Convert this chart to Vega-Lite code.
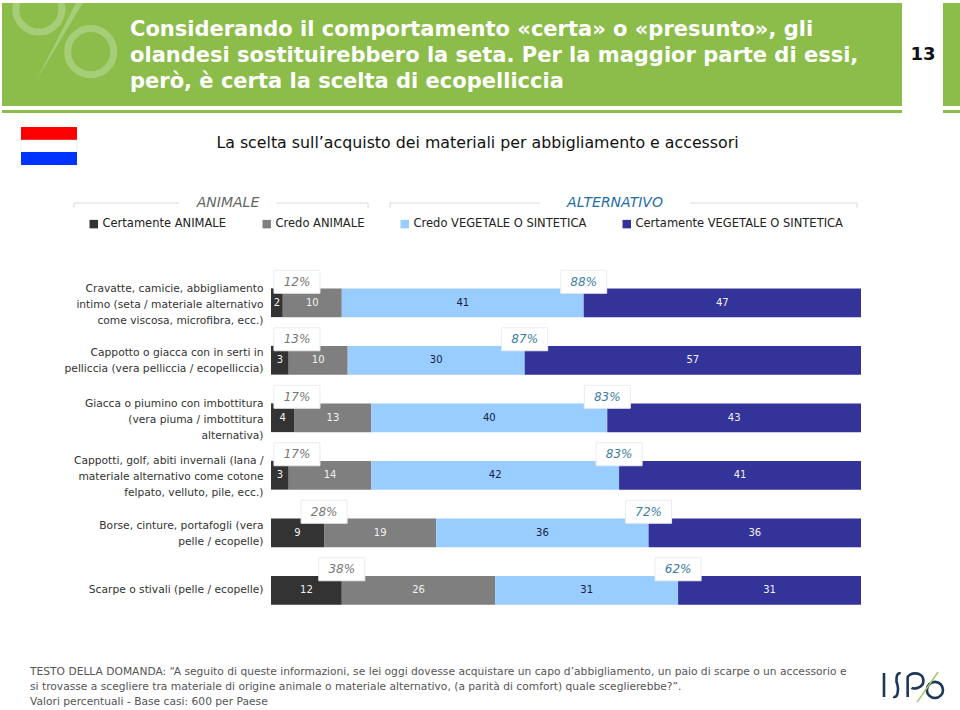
{
"$schema":"https://vega.github.io/schema/vega-lite/v6.json",
"width":960,"height":710,"padding":0,"autosize":{"type":"none"},"background":"#ffffff",
"config":{"view":{"stroke":null},"font":"DejaVu Sans"},
"datasets":{
"one":[{"k":1}],
"bars":[
{"item":"Cravatte, camicie, abbigliamento\u00a0|intimo (seta / materiale alternativo|come viscosa, microfibra, ecc.)\u00a0\u00a0\u00a0","risposta":"Certamente ANIMALE","ordine":1,"pct":2},
{"item":"Cravatte, camicie, abbigliamento\u00a0|intimo (seta / materiale alternativo|come viscosa, microfibra, ecc.)\u00a0\u00a0\u00a0","risposta":"Credo ANIMALE","ordine":2,"pct":10},
{"item":"Cravatte, camicie, abbigliamento\u00a0|intimo (seta / materiale alternativo|come viscosa, microfibra, ecc.)\u00a0\u00a0\u00a0","risposta":"Credo VEGETALE O SINTETICA","ordine":3,"pct":41},
{"item":"Cravatte, camicie, abbigliamento\u00a0|intimo (seta / materiale alternativo|come viscosa, microfibra, ecc.)\u00a0\u00a0\u00a0","risposta":"Certamente VEGETALE O SINTETICA","ordine":4,"pct":47},
{"item":"Cappotto o giacca con in serti in\u00a0\u00a0|pelliccia (vera pelliccia / ecopelliccia)","risposta":"Certamente ANIMALE","ordine":1,"pct":3},
{"item":"Cappotto o giacca con in serti in\u00a0\u00a0|pelliccia (vera pelliccia / ecopelliccia)","risposta":"Credo ANIMALE","ordine":2,"pct":10},
{"item":"Cappotto o giacca con in serti in\u00a0\u00a0|pelliccia (vera pelliccia / ecopelliccia)","risposta":"Credo VEGETALE O SINTETICA","ordine":3,"pct":30},
{"item":"Cappotto o giacca con in serti in\u00a0\u00a0|pelliccia (vera pelliccia / ecopelliccia)","risposta":"Certamente VEGETALE O SINTETICA","ordine":4,"pct":57},
{"item":"Giacca o piumino con imbottitura|(vera piuma / imbottitura\u00a0\u00a0\u00a0\u00a0\u00a0\u00a0|alternativa)\u00a0\u00a0\u00a0\u00a0\u00a0\u00a0\u00a0\u00a0\u00a0\u00a0\u00a0\u00a0\u00a0\u00a0\u00a0\u00a0\u00a0","risposta":"Certamente ANIMALE","ordine":1,"pct":4},
{"item":"Giacca o piumino con imbottitura|(vera piuma / imbottitura\u00a0\u00a0\u00a0\u00a0\u00a0\u00a0|alternativa)\u00a0\u00a0\u00a0\u00a0\u00a0\u00a0\u00a0\u00a0\u00a0\u00a0\u00a0\u00a0\u00a0\u00a0\u00a0\u00a0\u00a0","risposta":"Credo ANIMALE","ordine":2,"pct":13},
{"item":"Giacca o piumino con imbottitura|(vera piuma / imbottitura\u00a0\u00a0\u00a0\u00a0\u00a0\u00a0|alternativa)\u00a0\u00a0\u00a0\u00a0\u00a0\u00a0\u00a0\u00a0\u00a0\u00a0\u00a0\u00a0\u00a0\u00a0\u00a0\u00a0\u00a0","risposta":"Credo VEGETALE O SINTETICA","ordine":3,"pct":40},
{"item":"Giacca o piumino con imbottitura|(vera piuma / imbottitura\u00a0\u00a0\u00a0\u00a0\u00a0\u00a0|alternativa)\u00a0\u00a0\u00a0\u00a0\u00a0\u00a0\u00a0\u00a0\u00a0\u00a0\u00a0\u00a0\u00a0\u00a0\u00a0\u00a0\u00a0","risposta":"Certamente VEGETALE O SINTETICA","ordine":4,"pct":43},
{"item":"Cappotti, golf, abiti invernali (lana /|materiale alternativo come cotone\u00a0|felpato, velluto, pile, ecc.)\u00a0\u00a0\u00a0\u00a0\u00a0\u00a0\u00a0","risposta":"Certamente ANIMALE","ordine":1,"pct":3},
{"item":"Cappotti, golf, abiti invernali (lana /|materiale alternativo come cotone\u00a0|felpato, velluto, pile, ecc.)\u00a0\u00a0\u00a0\u00a0\u00a0\u00a0\u00a0","risposta":"Credo ANIMALE","ordine":2,"pct":14},
{"item":"Cappotti, golf, abiti invernali (lana /|materiale alternativo come cotone\u00a0|felpato, velluto, pile, ecc.)\u00a0\u00a0\u00a0\u00a0\u00a0\u00a0\u00a0","risposta":"Credo VEGETALE O SINTETICA","ordine":3,"pct":42},
{"item":"Cappotti, golf, abiti invernali (lana /|materiale alternativo come cotone\u00a0|felpato, velluto, pile, ecc.)\u00a0\u00a0\u00a0\u00a0\u00a0\u00a0\u00a0","risposta":"Certamente VEGETALE O SINTETICA","ordine":4,"pct":41},
{"item":"Borse, cinture, portafogli (vera|pelle / ecopelle)\u00a0\u00a0\u00a0\u00a0\u00a0\u00a0\u00a0\u00a0\u00a0\u00a0\u00a0\u00a0","risposta":"Certamente ANIMALE","ordine":1,"pct":9},
{"item":"Borse, cinture, portafogli (vera|pelle / ecopelle)\u00a0\u00a0\u00a0\u00a0\u00a0\u00a0\u00a0\u00a0\u00a0\u00a0\u00a0\u00a0","risposta":"Credo ANIMALE","ordine":2,"pct":19},
{"item":"Borse, cinture, portafogli (vera|pelle / ecopelle)\u00a0\u00a0\u00a0\u00a0\u00a0\u00a0\u00a0\u00a0\u00a0\u00a0\u00a0\u00a0","risposta":"Credo VEGETALE O SINTETICA","ordine":3,"pct":36},
{"item":"Borse, cinture, portafogli (vera|pelle / ecopelle)\u00a0\u00a0\u00a0\u00a0\u00a0\u00a0\u00a0\u00a0\u00a0\u00a0\u00a0\u00a0","risposta":"Certamente VEGETALE O SINTETICA","ordine":4,"pct":36},
{"item":"Scarpe o stivali (pelle / ecopelle)","risposta":"Certamente ANIMALE","ordine":1,"pct":12},
{"item":"Scarpe o stivali (pelle / ecopelle)","risposta":"Credo ANIMALE","ordine":2,"pct":26},
{"item":"Scarpe o stivali (pelle / ecopelle)","risposta":"Credo VEGETALE O SINTETICA","ordine":3,"pct":31},
{"item":"Scarpe o stivali (pelle / ecopelle)","risposta":"Certamente VEGETALE O SINTETICA","ordine":4,"pct":31}
],
"somme":[
{"item":"Cravatte, camicie, abbigliamento\u00a0|intimo (seta / materiale alternativo|come viscosa, microfibra, ecc.)\u00a0\u00a0\u00a0","gruppo":"ANIMALE","totale":12,"certo":2},
{"item":"Cravatte, camicie, abbigliamento\u00a0|intimo (seta / materiale alternativo|come viscosa, microfibra, ecc.)\u00a0\u00a0\u00a0","gruppo":"ALTERNATIVO","totale":88,"certo":47},
{"item":"Cappotto o giacca con in serti in\u00a0\u00a0|pelliccia (vera pelliccia / ecopelliccia)","gruppo":"ANIMALE","totale":13,"certo":3},
{"item":"Cappotto o giacca con in serti in\u00a0\u00a0|pelliccia (vera pelliccia / ecopelliccia)","gruppo":"ALTERNATIVO","totale":87,"certo":57},
{"item":"Giacca o piumino con imbottitura|(vera piuma / imbottitura\u00a0\u00a0\u00a0\u00a0\u00a0\u00a0|alternativa)\u00a0\u00a0\u00a0\u00a0\u00a0\u00a0\u00a0\u00a0\u00a0\u00a0\u00a0\u00a0\u00a0\u00a0\u00a0\u00a0\u00a0","gruppo":"ANIMALE","totale":17,"certo":4},
{"item":"Giacca o piumino con imbottitura|(vera piuma / imbottitura\u00a0\u00a0\u00a0\u00a0\u00a0\u00a0|alternativa)\u00a0\u00a0\u00a0\u00a0\u00a0\u00a0\u00a0\u00a0\u00a0\u00a0\u00a0\u00a0\u00a0\u00a0\u00a0\u00a0\u00a0","gruppo":"ALTERNATIVO","totale":83,"certo":43},
{"item":"Cappotti, golf, abiti invernali (lana /|materiale alternativo come cotone\u00a0|felpato, velluto, pile, ecc.)\u00a0\u00a0\u00a0\u00a0\u00a0\u00a0\u00a0","gruppo":"ANIMALE","totale":17,"certo":3},
{"item":"Cappotti, golf, abiti invernali (lana /|materiale alternativo come cotone\u00a0|felpato, velluto, pile, ecc.)\u00a0\u00a0\u00a0\u00a0\u00a0\u00a0\u00a0","gruppo":"ALTERNATIVO","totale":83,"certo":41},
{"item":"Borse, cinture, portafogli (vera|pelle / ecopelle)\u00a0\u00a0\u00a0\u00a0\u00a0\u00a0\u00a0\u00a0\u00a0\u00a0\u00a0\u00a0","gruppo":"ANIMALE","totale":28,"certo":9},
{"item":"Borse, cinture, portafogli (vera|pelle / ecopelle)\u00a0\u00a0\u00a0\u00a0\u00a0\u00a0\u00a0\u00a0\u00a0\u00a0\u00a0\u00a0","gruppo":"ALTERNATIVO","totale":72,"certo":36},
{"item":"Scarpe o stivali (pelle / ecopelle)","gruppo":"ANIMALE","totale":38,"certo":12},
{"item":"Scarpe o stivali (pelle / ecopelle)","gruppo":"ALTERNATIVO","totale":62,"certo":31}
]},
"layer":[
{"data":{"name":"one"},"mark":{"type":"rect","fill":"#8cbd4a"},"encoding":{"x":{"value":2},"x2":{"value":902},"y":{"value":3},"y2":{"value":106}}},
{"data":{"name":"one"},"mark":{"type":"rect","fill":"#8cbd4a"},"encoding":{"x":{"value":2},"x2":{"value":902},"y":{"value":110},"y2":{"value":113}}},
{"data":{"name":"one"},"mark":{"type":"rect","fill":"#8cbd4a"},"encoding":{"x":{"value":943},"x2":{"value":960},"y":{"value":3},"y2":{"value":106}}},
{"data":{"name":"one"},"mark":{"type":"rect","fill":"#8cbd4a"},"encoding":{"x":{"value":943},"x2":{"value":960},"y":{"value":110},"y2":{"value":113}}},
{"data":{"name":"one"},"mark":{"type":"point","filled":false,"strokeWidth":7,"stroke":"#a6cd78","opacity":1,"size":19600,"shape":"M-0.66,-0.3 A0.33,0.33 0 1,0 0,-0.3 A0.33,0.33 0 1,0 -0.66,-0.3 M0.08,0.31 A0.33,0.33 0 1,0 0.74,0.31 A0.33,0.33 0 1,0 0.08,0.31"},"encoding":{"x":{"value":62},"y":{"value":30}}},
{"data":{"name":"one"},"mark":{"type":"point","filled":true,"fill":"#a6cd78","opacity":1,"size":19600,"shape":"M0.2,-0.39 L0.3,-0.39 L-0.35,0.69 Z"},"encoding":{"x":{"value":62},"y":{"value":30}}},
{"data":{"name":"one"},"mark":{"type":"rect","fill":"#ffffff"},"encoding":{"x":{"value":0},"x2":{"value":960},"y":{"value":0},"y2":{"value":3}}},
{"data":{"name":"one"},"mark":{"type":"text","text":["Considerando il comportamento «certa» o «presunto», gli","olandesi sostituirebbero la seta. Per la maggior parte di essi,","però, è certa la scelta di ecopelliccia"],"font":"DejaVu Sans","fontWeight":"bold","fontSize":21,"lineHeight":26,"fill":"#ffffff","align":"left","baseline":"middle"},"encoding":{"x":{"value":130},"y":{"value":30}}},
{"data":{"name":"one"},"mark":{"type":"text","text":"13","fontWeight":"bold","fontSize":18,"fill":"#111111","align":"center","baseline":"middle"},"encoding":{"x":{"value":923},"y":{"value":55}}},
{"data":{"name":"one"},"mark":{"type":"rect","fill":"#ff0000"},"encoding":{"x":{"value":21},"x2":{"value":77},"y":{"value":127},"y2":{"value":140}}},
{"data":{"name":"one"},"mark":{"type":"rect","fill":"#ffffff","stroke":"#dddddd","strokeWidth":0.5},"encoding":{"x":{"value":21},"x2":{"value":77},"y":{"value":140},"y2":{"value":152}}},
{"data":{"name":"one"},"mark":{"type":"rect","fill":"#0033ff"},"encoding":{"x":{"value":21},"x2":{"value":77},"y":{"value":152},"y2":{"value":165}}},
{"data":{"name":"one"},"mark":{"type":"text","text":"La scelta sull’acquisto dei materiali per abbigliamento e accessori","fontSize":15.8,"fill":"#111111","align":"center","baseline":"middle"},"encoding":{"x":{"value":477.5},"y":{"value":143}}},
{"data":{"name":"one"},"mark":{"type":"text","text":"ANIMALE","fontSize":14,"fontStyle":"italic","fill":"#666666","align":"center","baseline":"middle"},"encoding":{"x":{"value":228},"y":{"value":203}}},
{"data":{"name":"one"},"mark":{"type":"text","text":"ALTERNATIVO","fontSize":14,"fontStyle":"italic","fill":"#1f6ea8","align":"center","baseline":"middle"},"encoding":{"x":{"value":615},"y":{"value":203}}},
{"data":{"name":"one"},"mark":{"type":"point","filled":false,"stroke":"#d5dcdc","strokeWidth":1,"opacity":1,"size":4000000,"shape":"M-0.406,-0.003 V0.002 M-0.406,-0.003 H-0.301 M-0.204,-0.003 H-0.112 V0.002 M-0.09,-0.003 V0.002 M-0.09,-0.003 H0.06 M0.21,-0.003 H0.377 V0.002"},"encoding":{"x":{"value":480},"y":{"value":206}}},
{"data":{"name":"one"},"mark":{"type":"text","text":["TESTO DELLA DOMANDA: “A seguito di queste informazioni, se lei oggi dovesse acquistare un capo d’abbigliamento, un paio di scarpe o un accessorio e","si trovasse a scegliere tra materiale di origine animale o materiale alternativo, (a parità di comfort) quale sceglierebbe?”."],"fontSize":10.7,"lineHeight":15,"fill":"#555555","align":"left","baseline":"top"},"encoding":{"x":{"value":30},"y":{"value":667}}},
{"data":{"name":"one"},"mark":{"type":"text","text":"Valori percentuali - Base casi: 600 per Paese","fontSize":10.7,"fill":"#555555","align":"left","baseline":"middle"},"encoding":{"x":{"value":30},"y":{"value":702}}},
{"data":{"name":"one"},"mark":{"type":"point","filled":false,"stroke":"#1d3557","strokeWidth":2.6,"opacity":1,"size":4900,"shape":"M-0.886,-0.34 V0.34 M-0.41,-0.33 C-0.55,-0.38 -0.55,-0.1 -0.5,0 C-0.46,0.15 -0.5,0.4 -0.62,0.33 M-0.21,0.34 V-0.2 C-0.21,-0.36 0.24,-0.42 0.24,-0.12 C0.24,0.1 -0.05,0.12 -0.1,0.08 M0.34,0.14 A0.23,0.23 0 1,0 0.8,0.14 A0.23,0.23 0 1,0 0.34,0.14"},"encoding":{"x":{"value":915},"y":{"value":685}}},
{"data":{"name":"one"},"mark":{"type":"point","filled":false,"stroke":"#a3c46a","strokeWidth":1.5,"opacity":1,"size":4900,"shape":"M0.66,-0.37 L0.06,0.49"},"encoding":{"x":{"value":915},"y":{"value":685}}},
{"data":{"name":"bars"},
 "transform":[{"stack":"pct","groupby":["item"],"sort":[{"field":"ordine"}],"as":["da","a"]}],
 "mark":{"type":"bar"},
 "encoding":{
  "y":{"field":"item","type":"nominal","sort":null,"scale":{"range":[274,619],"paddingInner":0.5,"paddingOuter":0.25},
   "axis":{"title":null,"domain":false,"ticks":false,"orient":"left","offset":-264,"labelPadding":1,"labelFont":"DejaVu Sans","labelFontSize":10.7,"labelColor":"#333333","labelLineHeight":16,"labelLimit":260,"labelAlign":"right","labelOffset":{"expr":"(length(split(datum.label,'|'))-1)*-7"},"labelExpr":"split(datum.label,'|')"}},
  "x":{"field":"da","type":"quantitative","scale":{"domain":[0,100],"range":[271,861],"nice":false},"axis":null},
  "x2":{"field":"a"},
  "color":{"field":"risposta","type":"nominal","scale":{"domain":["Certamente ANIMALE","Credo ANIMALE","Credo VEGETALE O SINTETICA","Certamente VEGETALE O SINTETICA"],"range":["#333333","#7f7f7f","#99ccff","#333399"]},
   "legend":{"title":null,"orient":"none","legendX":88,"legendY":218,"direction":"horizontal","columns":4,"columnPadding":34,"symbolType":"square","symbolSize":72,"symbolOpacity":1,"symbolStrokeWidth":0,"labelFont":"DejaVu Sans","labelFontSize":11.5,"labelColor":"#222222","labelOffset":3,"labelLimit":300}}
 }},
{"data":{"name":"bars"},
 "transform":[{"stack":"pct","groupby":["item"],"sort":[{"field":"ordine"}],"as":["da","a"]},{"calculate":"(datum.da+datum.a)/2","as":"centro"}],
 "mark":{"type":"text","fontSize":10,"baseline":"middle","align":"center"},
 "encoding":{
  "y":{"field":"item","type":"nominal","sort":null},
  "x":{"field":"centro","type":"quantitative"},
  "text":{"field":"pct","type":"quantitative"},
  "color":{"condition":{"test":"datum.ordine===3","value":"#16233f"},"value":"#f2f2f2"}
 }},
{"data":{"name":"somme"},
 "transform":[{"calculate":"datum.gruppo==='ANIMALE'?max(datum.certo,4.4):100-datum.certo","as":"posizione"}],
 "mark":{"type":"point","filled":true,"fill":"#ffffff","stroke":"#e8edf0","strokeWidth":1,"opacity":1,"size":2116,"yOffset":-21,"shape":"M-1,-0.5 H1 V0.5 H-1 Z"},
 "encoding":{"y":{"field":"item","type":"nominal","sort":null},"x":{"field":"posizione","type":"quantitative"}}},
{"data":{"name":"somme"},
 "transform":[{"calculate":"datum.gruppo==='ANIMALE'?max(datum.certo,4.4):100-datum.certo","as":"posizione"},{"calculate":"datum.totale+'%'","as":"etichetta"}],
 "mark":{"type":"text","fontSize":12,"fontStyle":"italic","baseline":"middle","align":"center","dy":-21},
 "encoding":{"y":{"field":"item","type":"nominal","sort":null},"x":{"field":"posizione","type":"quantitative"},"text":{"field":"etichetta","type":"nominal"},
  "color":{"condition":{"test":"datum.gruppo==='ANIMALE'","value":"#777777"},"value":"#3b7ea1"}}}
]
}
